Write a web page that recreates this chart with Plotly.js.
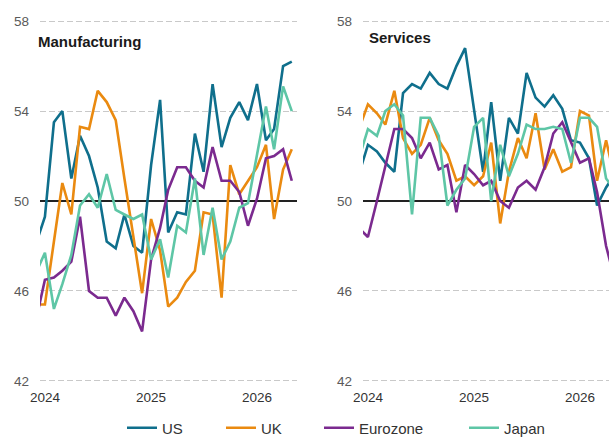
<!DOCTYPE html>
<html>
<head>
<meta charset="utf-8">
<script src="https://cdn.plot.ly/plotly-3.0.1.min.js"></script>
<style>
html,body{margin:0;padding:0;overflow:hidden;background:#ffffff;width:609px;height:437px;}
#chart{width:640px;height:437px;}
</style>
</head>
<body>
<div id="chart"></div>
<script>
// Monthly observations, Dec 2023 .. May 2026
const months = ["2023-12-01","2024-01-01","2024-02-01","2024-03-01","2024-04-01","2024-05-01","2024-06-01","2024-07-01","2024-08-01","2024-09-01","2024-10-01","2024-11-01","2024-12-01",
"2025-01-01","2025-02-01","2025-03-01","2025-04-01","2025-05-01","2025-06-01","2025-07-01","2025-08-01","2025-09-01","2025-10-01","2025-11-01","2025-12-01",
"2026-01-01","2026-02-01","2026-03-01","2026-04-01","2026-05-01"];

const seriesNames = ["US","UK","Eurozone","Japan"];
const panelTitles = ["Manufacturing","Services"];
const yTicks = [42,46,50,54,58];
const refLevel = 50;
const xTickVals = ["2024-01-01","2025-01-01","2026-01-01"];
const xTickText = ["2024","2025","2026"];

const usMfg = [48.1,49.3,53.5,54.0,51.0,52.9,52.0,50.6,48.2,47.9,49.4,48.0,47.7,51.6,54.5,48.6,49.5,49.4,53.0,51.3,55.2,52.4,53.7,54.4,53.6,55.2,52.7,53.2,56.0,56.2];
const ukMfg = [45.4,45.4,48.2,50.8,49.4,53.3,53.2,54.9,54.4,53.6,51.0,48.4,45.9,49.2,47.8,45.3,45.7,46.4,46.9,49.5,49.4,45.7,51.6,50.3,50.9,51.5,52.5,49.2,51.4,52.3];
const ezMfg = [44.7,46.5,46.6,46.9,47.3,49.3,46.0,45.7,45.7,44.9,45.7,45.1,44.2,47.4,48.8,50.5,51.5,51.5,50.9,50.6,52.4,50.9,50.9,50.4,48.9,50.1,51.9,52.0,52.3,50.9];
const jpMfg = [46.8,47.7,45.2,46.3,47.6,49.8,50.3,49.7,51.2,49.6,49.4,49.2,49.4,47.4,48.3,46.6,48.9,48.6,51.0,47.6,49.7,47.4,48.2,49.7,49.9,52.0,54.2,52.3,55.1,54.0];

const usSvc = [51.2,52.5,52.2,51.7,51.3,54.8,55.2,55.0,55.7,55.2,55.0,56.0,56.8,54.0,51.3,54.4,50.9,53.7,53.0,55.7,54.6,54.2,54.7,54.1,52.7,52.6,51.9,49.8,50.6,51.2];
const ukSvc = [53.2,54.3,53.9,53.4,54.9,52.8,52.1,52.5,53.7,52.7,52.1,50.9,51.1,50.7,51.1,52.6,49.0,51.3,52.8,51.9,53.9,51.4,52.3,51.3,51.5,54.0,53.8,50.9,52.7,51.0];
const ezSvc = [48.8,48.4,50.0,51.5,53.2,53.2,52.8,51.9,52.6,51.4,51.6,49.5,51.6,51.2,50.7,50.9,50.0,49.7,50.6,50.9,50.5,51.5,53.0,53.5,52.6,51.7,51.9,50.4,48.0,46.5];
const jpSvc = [51.9,53.2,52.9,54.0,54.3,53.8,49.4,53.7,53.7,52.9,49.8,50.5,51.0,53.3,53.7,50.0,52.5,51.1,52.1,53.4,53.2,53.2,53.3,53.2,51.7,53.7,53.7,53.3,51.0,50.5];

const colors = ["#0f6f8c","#ea8a10","#7b2a8f","#5ec6a6"];
const mfg = [usMfg, ukMfg, ezMfg, jpMfg];
const svc = [usSvc, ukSvc, ezSvc, jpSvc];
const legendIds = ["legend","legend2","legend3","legend4"];

const W = 640, H = 437;
const traces = [];
for (let i = 0; i < 4; i++) {
  traces.push({x: months, y: mfg[i], type: "scatter", mode: "lines", name: seriesNames[i],
    line: {color: colors[i], width: 2.6}, xaxis: "x", yaxis: "y", legend: legendIds[i], showlegend: true});
}
for (let i = 0; i < 4; i++) {
  traces.push({x: months, y: svc[i], type: "scatter", mode: "lines", name: seriesNames[i],
    line: {color: colors[i], width: 2.6}, xaxis: "x2", yaxis: "y2", showlegend: false});
}

const font = "Liberation Sans, Arial, sans-serif";
const xRange = ["2023-12-15","2026-05-19"];
const xCommon = {type: "date", range: xRange, showgrid: false, zeroline: false, showline: false, ticks: "",
  tickvals: xTickVals, ticktext: xTickText, tickfont: {family: font, size: 13.5, color: "#333333"}, ticklabelstandoff: 5, fixedrange: true};
const gridVals = yTicks.filter(v => v !== refLevel);
const yCommon = {range: [41.95, 58.05], tickvals: yTicks, showgrid: false,
  minor: {tickvals: gridVals, showgrid: true, gridcolor: "#c9c9c9", gridwidth: 1, griddash: "6px,3px", ticks: ""},
  zeroline: false, showline: false, ticks: "", tickfont: {family: font, size: 13.5, color: "#5a5a5a"}, ticklabelstandoff: 10, fixedrange: true};

const plotW = W - 40 - 20;
const d1 = [0, 257 / plotW];
const d2 = [323 / plotW, 1];

function legendAt(px) {
  return {orientation: "h", xref: "container", yref: "container", x: px / W, y: 1 - 428 / H,
    xanchor: "left", yanchor: "middle", bgcolor: "rgba(0,0,0,0)", borderwidth: 0,
    font: {family: font, size: 15, color: "#333333"}, itemwidth: 30};
}

const layout = {
  width: W, height: H,
  margin: {l: 40, r: 20, t: 20, b: 55},
  paper_bgcolor: "#ffffff", plot_bgcolor: "#ffffff",
  showlegend: true,
  xaxis: Object.assign({}, xCommon, {domain: d1, anchor: "y"}),
  xaxis2: Object.assign({}, xCommon, {domain: d2, anchor: "y2"}),
  yaxis: Object.assign({}, yCommon, {anchor: "x"}),
  yaxis2: Object.assign({}, yCommon, {anchor: "x2"}),
  legend: legendAt(122), legend2: legendAt(221), legend3: legendAt(319), legend4: legendAt(464),
  shapes: [
    {type: "line", xref: "x domain", x0: 0, x1: 1, yref: "y", y0: refLevel, y1: refLevel, line: {color: "#222222", width: 2}, layer: "below"},
    {type: "line", xref: "x2 domain", x0: 0, x1: 1, yref: "y2", y0: refLevel, y1: refLevel, line: {color: "#222222", width: 2}, layer: "below"}
  ],
  annotations: [
    {text: "<b>" + panelTitles[0] + "</b>", xref: "paper", yref: "paper", x: (36 - 40) / plotW, y: (382 - 41) / 362,
      xanchor: "left", yanchor: "middle", showarrow: false, font: {family: font, size: 15, color: "#1a1a1a"}},
    {text: "<b>" + panelTitles[1] + "</b>", xref: "paper", yref: "paper", x: (367 - 40) / plotW, y: (382 - 38) / 362,
      xanchor: "left", yanchor: "middle", showarrow: false, font: {family: font, size: 15, color: "#1a1a1a"}}
  ]
};

Plotly.newPlot("chart", traces, layout, {displayModeBar: false, staticPlot: true});
</script>
</body>
</html>
